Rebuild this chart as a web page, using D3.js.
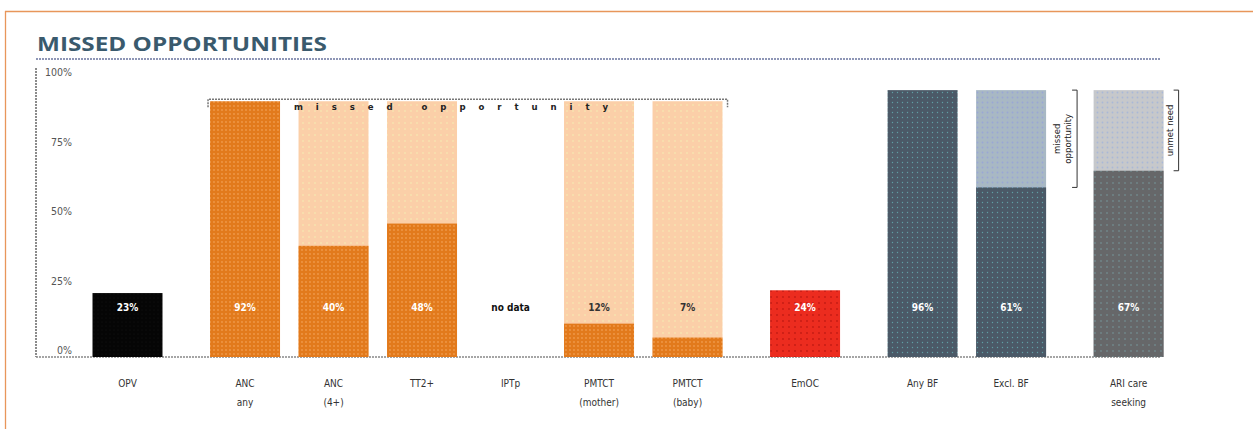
<!DOCTYPE html>
<html><head><meta charset="utf-8">
<script src="https://cdn.jsdelivr.net/npm/d3@7"></script>
<style>html,body{margin:0;padding:0;background:#fff;}svg{display:block;}</style>
</head><body>
<svg id="chart" width="1253" height="429"></svg>
<script>
const categories = ["OPV","ANC any","ANC (4+)","TT2+","IPTp","PMTCT (mother)","PMTCT (baby)","EmOC","Any BF","Excl. BF","ARI care seeking"];
const labelLine1 = ["OPV","ANC","ANC","TT2+","IPTp","PMTCT","PMTCT","EmOC","Any BF","Excl. BF","ARI care"];
const labelLine2 = ["","any","(4+)","","","(mother)","(baby)","","","","seeking"];
const coverage = [23,92,40,48,null,12,7,24,96,61,67];
const gapTop = [null,null,92,92,null,92,92,null,null,96,96];
const groupIndex = [0,1,1,1,1,1,1,2,3,3,4];
const seriesKind = ["black","orange","orange","orange","orange","orange","orange","red","slate","slate","gray"];
const yTicks = [0,25,50,75,100];
const yTickLabels = ["0%","25%","50%","75%","100%"];

const svg = d3.select("#chart");
const font = "'DejaVu Sans Condensed','DejaVu Sans',sans-serif";

// patterns
const defs = svg.append("defs");
function pat(id, bg, dot, size, r){
  const p = defs.append("pattern").attr("id",id).attr("patternUnits","userSpaceOnUse").attr("width",size).attr("height",size);
  p.append("rect").attr("width",size).attr("height",size).attr("fill",bg);
  p.append("circle").attr("cx",size/2).attr("cy",size/2).attr("r",r).attr("fill",dot);
}
pat("p-black","#050505","#111",4,0.6);
pat("p-orange","#e27a1c","#f09a4a",4,0.9);
pat("p-orangeL","#fbcfa8","#f7e4b0",6,0.9);
pat("p-red","#ec2c1f","#c21a12",6,0.9);
pat("p-slate","#4b5967","#5f9ea5",5,0.7);
pat("p-slateL","#a8b8c4","#9aa6d6",5,0.9);
pat("p-gray","#666769","#7aa3a8",6,0.7);
pat("p-grayL","#c6c8cb","#a9b8d8",5,0.9);
const darkFill = {black:"url(#p-black)",orange:"url(#p-orange)",red:"url(#p-red)",slate:"url(#p-slate)",gray:"url(#p-gray)"};
const lightFill = {orange:"url(#p-orangeL)",slate:"url(#p-slateL)",gray:"url(#p-grayL)"};

// frame
svg.append("line").attr("x1",5).attr("x2",1253).attr("y1",11.5).attr("y2",11.5).attr("stroke","#e8965a").attr("stroke-width",1.3);
svg.append("line").attr("x1",5.5).attr("x2",5.5).attr("y1",11).attr("y2",429).attr("stroke","#e8965a").attr("stroke-width",1.3);

// title
svg.append("text").attr("x",37).attr("y",51).text("MISSED OPPORTUNITIES")
  .attr("font-family","'Open Sans',sans-serif").attr("font-weight",700).attr("font-size",20)
  .attr("textLength",290).attr("lengthAdjust","spacingAndGlyphs").attr("fill","#3a5a6d");
svg.append("line").attr("x1",36).attr("x2",1160).attr("y1",59).attr("y2",59).attr("stroke","#8e96b6").attr("stroke-width",2).attr("stroke-dasharray","2,1");

// scales: unit spacing plus extra gap between groups
const pos = categories.map((c,i)=> i + 0.328*groupIndex[i]);
const x = d3.scaleLinear().domain([0, 1]).range([127.5, 216]);
const y = d3.scaleLinear().domain([0,100]).range([357, 79]);
const bw = 70;

// axes lines
svg.append("line").attr("x1",36).attr("x2",36).attr("y1",68).attr("y2",357).attr("stroke","#666").attr("stroke-width",1.5).attr("stroke-dasharray","2,1");
svg.append("line").attr("x1",36).attr("x2",1160).attr("y1",357).attr("y2",357).attr("stroke","#888").attr("stroke-width",1.5).attr("stroke-dasharray","2,1");

svg.append("g").selectAll("text").data(yTicks).join("text")
  .attr("x",72).attr("y",(d)=>y(d)-3).attr("text-anchor","end")
  .attr("font-family",font).attr("font-size",10.5).attr("fill","#555")
  .text((d,i)=>yTickLabels[i]);

const data = categories.map((c,i)=>({c,i,v:coverage[i],top:gapTop[i],k:seriesKind[i],cx:x(pos[i])}));

// light (missed / unmet) bars
svg.append("g").selectAll("rect").data(data.filter(d=>d.top!=null)).join("rect")
  .attr("x",d=>d.cx-bw/2).attr("width",bw).attr("y",d=>y(d.top)).attr("height",d=>y(0)-y(d.top))
  .attr("fill",d=>lightFill[d.k]);
// coverage bars
svg.append("g").selectAll("rect").data(data.filter(d=>d.v!=null)).join("rect")
  .attr("x",d=>d.cx-bw/2).attr("width",bw).attr("y",d=>y(d.v)).attr("height",d=>y(0)-y(d.v))
  .attr("fill",d=>darkFill[d.k]);

// value labels
svg.append("g").selectAll("text").data(data).join("text")
  .attr("x",d=>d.cx).attr("y",y(16.5)).attr("text-anchor","middle")
  .attr("font-family",font).attr("font-size",10).attr("font-weight",700)
  .attr("fill",d=> d.v==null ? "#111" : (d.v < 17 ? "#333" : "#fff"))
  .text(d=> d.v==null ? "no data" : d.v + "%");

// category labels
const lab = svg.append("g").attr("font-family",font).attr("font-size",10).attr("fill","#333").attr("text-anchor","middle");
lab.selectAll("text.l1").data(data).join("text").attr("class","l1").attr("x",d=>d.cx).attr("y",387).text(d=>labelLine1[d.i]);
lab.selectAll("text.l2").data(data).join("text").attr("class","l2").attr("x",d=>d.cx).attr("y",406).text(d=>labelLine2[d.i]);

// top bracket "missed opportunity"
const left = data.filter(d=>d.k==="orange");
const bx1 = d3.min(left,d=>d.cx)-bw/2-2, bx2 = d3.max(left,d=>d.cx)+bw/2+5;
const by = y(92)-2;
svg.append("path").attr("d",`M${bx1},${by+8}V${by}H${bx2}V${by+8}`).attr("fill","none").attr("stroke","#777").attr("stroke-width",1.5).attr("stroke-dasharray","2,1");
svg.append("text").attr("x",294).attr("y",by+11).text("missed opportunity")
  .attr("font-family",font).attr("font-size",9.5).attr("font-weight",700).attr("fill","#222")
  .attr("textLength",314).attr("lengthAdjust","spacing");

// right brackets
function vBracket(d, lines, offset){
  const xL = d.cx + bw/2 + offset;
  const y1 = y(d.top), y2 = y(d.v);
  svg.append("path").attr("d",`M${xL-5},${y1}H${xL}V${y2}H${xL-5}`).attr("fill","none").attr("stroke","#333").attr("stroke-width",1);
  const t = svg.append("text").attr("transform",`translate(${xL-4 - 11*(lines.length-1)},${(y1+y2)/2}) rotate(-90)`)
    .attr("text-anchor","middle").attr("font-family",font).attr("font-size",9.5).attr("fill","#222");
  lines.forEach((s,j)=> t.append("tspan").attr("x",0).attr("dy", j===0 ? -2 : 11).text(s));
}
vBracket(data[9], ["missed","opportunity"], 31);
vBracket(data[10], ["unmet need"], 15);
</script>
</body></html>
